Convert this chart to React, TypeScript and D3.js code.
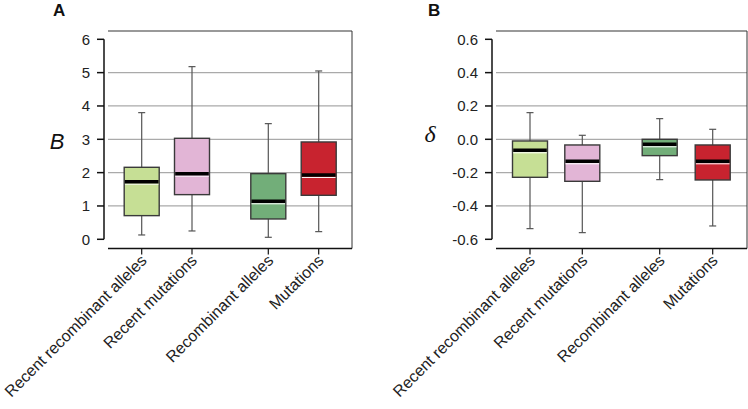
import React from "react";
import * as d3 from "d3";

const categories = ["Recent recombinant alleles", "Recent mutations", "Recombinant alleles", "Mutations"];
const colors = ["#c6df95", "#e2b5d6", "#72ae79", "#c8232f"];

// [whiskerLow, Q1, median, Q3, whiskerHigh]
const statsA = [
  [0.13, 0.71, 1.73, 2.16, 3.8],
  [0.25, 1.34, 1.97, 3.03, 5.18],
  [0.06, 0.61, 1.14, 1.97, 3.47],
  [0.23, 1.32, 1.93, 2.92, 5.05],
];
const statsB = [
  [-0.536, -0.228, -0.066, -0.01, 0.16],
  [-0.56, -0.252, -0.132, -0.034, 0.024],
  [-0.242, -0.098, -0.03, 0.0, 0.124],
  [-0.52, -0.244, -0.132, -0.034, 0.06],
];
const ticksA = [0, 1, 2, 3, 4, 5, 6];
const ticksB = [-0.6, -0.4, -0.2, 0.0, 0.2, 0.4, 0.6];

type PanelProps = {
  left: number;
  right: number;
  title: string;
  titleX: number;
  yLabel: string;
  yLabelX: number;
  yLabelBaseline: number;
  yLabelFont: string;
  yLabelSize: number;
  domain: [number, number];
  ticks: number[];
  fmt: (v: number) => string;
  stats: number[][];
  catX: number[];
};

const top = 31;
const bottom = 248.5;
const yTop = 39.3;
const yBot = 239.3;

function Panel(p: PanelProps) {
  const y = d3.scaleLinear().domain(p.domain).range([yBot, yTop]);
  const x = d3.scaleOrdinal<string, number>().domain(categories).range(p.catX);
  const axisX = p.left - 4;
  const boxW = 35;
  const capW = 7;
  return (
    <g>
      <text x={p.titleX} y={16} fontFamily="Liberation Sans, Arial, sans-serif" fontWeight="bold" fontSize={17} fill="#111">
        {p.title}
      </text>
      <text
        x={p.yLabelX}
        y={p.yLabelBaseline}
        fontFamily={p.yLabelFont}
        fontStyle="italic"
        fontSize={p.yLabelSize}
        fill="#111"
        textAnchor="middle"
      >
        {p.yLabel}
      </text>
      {/* gridlines */}
      {p.ticks.slice(1, -1).map((t) => (
        <line key={"g" + t} x1={p.left} x2={p.right} y1={y(t)} y2={y(t)} stroke="#aaaaaa" strokeWidth={1.3} />
      ))}
      {/* frame */}
      <line x1={p.left} x2={p.right} y1={top} y2={top} stroke="#777" strokeWidth={1.5} />
      <line x1={p.right} x2={p.right} y1={top} y2={bottom} stroke="#333" strokeWidth={1} />
      <line x1={p.left} x2={p.right} y1={bottom} y2={bottom} stroke="#111" strokeWidth={1.5} />
      {/* y axis */}
      <line x1={axisX} x2={axisX} y1={yTop} y2={yBot} stroke="#111" strokeWidth={1.5} />
      {p.ticks.map((t) => (
        <g key={"t" + t}>
          <line x1={axisX - 7} x2={axisX} y1={y(t)} y2={y(t)} stroke="#111" strokeWidth={1.5} />
          <text
            x={axisX - 14}
            y={y(t)}
            dy="0.36em"
            textAnchor="end"
            fontFamily="Liberation Sans, Arial, sans-serif"
            fontSize={15}
            fill="#222"
          >
            {p.fmt(t)}
          </text>
        </g>
      ))}
      {/* x ticks and labels */}
      {categories.map((c) => (
        <g key={"x" + c}>
          <line x1={x(c)} x2={x(c)} y1={bottom} y2={bottom + 6} stroke="#111" strokeWidth={1.2} />
          <text
            transform={`translate(${x(c) + 6},${bottom + 13}) rotate(-45)`}
            textAnchor="end"
            fontFamily="Liberation Sans, Arial, sans-serif"
            fontSize={16}
            fill="#222"
          >
            {c}
          </text>
        </g>
      ))}
      {/* boxes */}
      {p.stats.map((s, i) => {
        const cx = x(categories[i]);
        const [lo, q1, med, q3, hi] = s;
        return (
          <g key={"b" + i}>
            <line x1={cx} x2={cx} y1={y(hi)} y2={y(q3)} stroke="#555" strokeWidth={1.2} />
            <line x1={cx} x2={cx} y1={y(q1)} y2={y(lo)} stroke="#555" strokeWidth={1.2} />
            <line x1={cx - capW / 2} x2={cx + capW / 2} y1={y(hi)} y2={y(hi)} stroke="#555" strokeWidth={1.2} />
            <line x1={cx - capW / 2} x2={cx + capW / 2} y1={y(lo)} y2={y(lo)} stroke="#555" strokeWidth={1.2} />
            <rect
              x={cx - boxW / 2}
              y={y(q3)}
              width={boxW}
              height={y(q1) - y(q3)}
              fill={colors[i]}
              stroke="#3a3a3a"
              strokeWidth={1.4}
            />
            <line x1={cx - boxW / 2 + 0.7} x2={cx + boxW / 2 - 0.7} y1={y(med) + 2.5} y2={y(med) + 2.5} stroke="#ffffff" strokeWidth={1} />
            <line x1={cx - boxW / 2 + 0.7} x2={cx + boxW / 2 - 0.7} y1={y(med)} y2={y(med)} stroke="#000" strokeWidth={3.5} />
          </g>
        );
      })}
    </g>
  );
}

const fmtB = (v: number) => d3.format(".1f")(v).replace("\u2212", "-");

export default function App() {
  return (
    <svg
      width={748}
      height={409}
      style={{ position: "absolute", left: 0, top: 0, background: "#fff" }}
    >
      <rect width={748} height={409} fill="#fff" />
      <Panel
        left={108}
        right={352}
        title="A"
        titleX={53}
        yLabel="B"
        yLabelX={57}
        yLabelBaseline={149}
        yLabelFont="Liberation Sans, Arial, sans-serif"
        yLabelSize={22}
        domain={[0, 6]}
        ticks={ticksA}
        fmt={(v) => d3.format("d")(v)}
        stats={statsA}
        catX={[141.7, 192, 268.3, 318.7]}
      />
      <Panel
        left={496}
        right={747}
        title="B"
        titleX={428}
        yLabel="δ"
        yLabelX={430}
        yLabelBaseline={141.5}
        yLabelFont="Liberation Serif, Times New Roman, serif"
        yLabelSize={24}
        domain={[-0.6, 0.6]}
        ticks={ticksB}
        fmt={fmtB}
        stats={statsB}
        catX={[530, 582.3, 659.7, 712.7]}
      />
    </svg>
  );
}
